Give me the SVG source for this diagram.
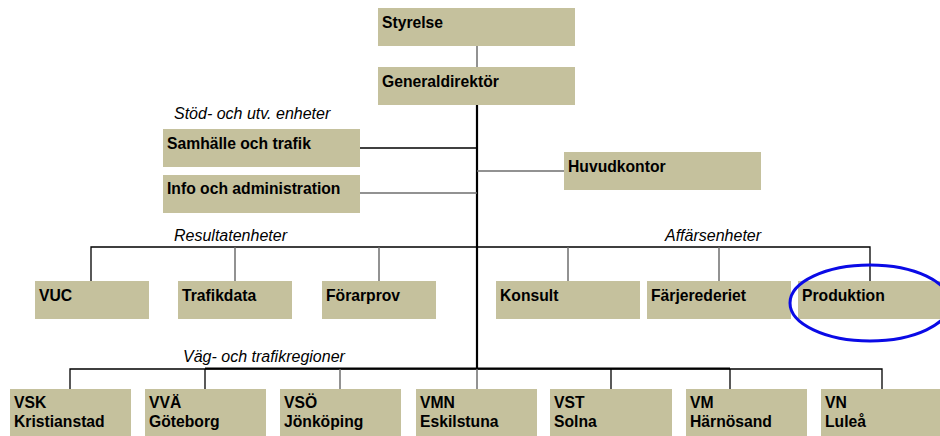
<svg xmlns="http://www.w3.org/2000/svg" width="940" height="436" viewBox="0 0 940 436">
<style>
.box{fill:#c5c19d}
.t{font-family:"Liberation Sans",Arial,sans-serif;font-weight:bold;font-size:15.7px;fill:#000}
.lbl{font-family:"Liberation Sans",Arial,sans-serif;font-style:italic;font-size:16px;fill:#000}
.k{stroke:#000;stroke-width:1.3;fill:none}
.g{stroke:#6e6e6e;stroke-width:1.5;fill:none}
.spine{stroke:#000;stroke-width:2.2;fill:none}
</style>
<rect width="940" height="436" fill="#fff"/>
<g id="connectors">
<line class="g" x1="477" y1="46" x2="477" y2="67"/>
<line class="spine" x1="477" y1="105" x2="477" y2="369"/>
<line class="k" x1="360" y1="148" x2="477" y2="148"/>
<line class="g" x1="360" y1="193" x2="477" y2="193"/>
<line class="g" x1="477" y1="171" x2="564" y2="171"/>
<polyline class="k" points="91,281 91,247 870,247 870,281"/>
<line class="g" x1="235" y1="247" x2="235" y2="281"/>
<line class="g" x1="379" y1="247" x2="379" y2="281"/>
<line class="g" x1="568" y1="247" x2="568" y2="281"/>
<line class="g" x1="719" y1="247" x2="719" y2="281"/>
<polyline class="k" points="70,389 70,369 882,369 882,389"/>
<line class="spine" x1="205" y1="368.5" x2="730" y2="368.5"/>
<line class="k" x1="205" y1="369" x2="205" y2="389"/>
<line class="g" x1="340" y1="369" x2="340" y2="389"/>
<line class="g" x1="477" y1="369" x2="477" y2="389"/>
<line class="k" x1="611" y1="369" x2="611" y2="389"/>
<line class="k" x1="730" y1="369" x2="730" y2="389"/>
</g>
<text class="lbl" x="174" y="119">Stöd- och utv. enheter</text>
<text class="lbl" x="174" y="241">Resultatenheter</text>
<text class="lbl" x="665" y="241">Affärsenheter</text>
<text class="lbl" x="183" y="362">Väg- och trafikregioner</text>
<g id="styrelse"><rect class="box" x="378" y="8" width="197" height="38"/><text class="t" x="382" y="28">Styrelse</text></g>
<g id="generaldirektor"><rect class="box" x="378" y="67" width="197" height="38"/><text class="t" x="382" y="87">Generaldirektör</text></g>
<g id="samhalle"><rect class="box" x="163" y="129" width="197" height="38"/><text class="t" x="167" y="149">Samhälle och trafik</text></g>
<g id="info"><rect class="box" x="163" y="175" width="197" height="38"/><text class="t" x="167" y="194">Info och administration</text></g>
<g id="huvudkontor"><rect class="box" x="564" y="152" width="197" height="38"/><text class="t" x="568" y="172">Huvudkontor</text></g>
<g id="vuc"><rect class="box" x="35" y="281" width="114" height="38"/><text class="t" x="39" y="301">VUC</text></g>
<g id="trafikdata"><rect class="box" x="178" y="281" width="114" height="38"/><text class="t" x="182" y="301">Trafikdata</text></g>
<g id="forarprov"><rect class="box" x="322" y="281" width="114" height="38"/><text class="t" x="326" y="301">Förarprov</text></g>
<g id="konsult"><rect class="box" x="496" y="281" width="144" height="38"/><text class="t" x="500" y="301">Konsult</text></g>
<g id="farjerederiet"><rect class="box" x="647" y="281" width="144" height="38"/><text class="t" x="651" y="301">Färjerederiet</text></g>
<g id="produktion"><rect class="box" x="798" y="281" width="144" height="38"/><text class="t" x="802" y="301">Produktion</text>
<ellipse cx="870" cy="303" rx="80" ry="38" fill="none" stroke="#0a0ae6" stroke-width="3"/></g>
<g id="vsk"><rect class="box" x="10" y="389" width="121" height="48"/><text class="t" x="14" y="408">VSK</text><text class="t" x="14" y="427">Kristianstad</text></g>
<g id="vva"><rect class="box" x="145" y="389" width="121" height="48"/><text class="t" x="149" y="408">VVÄ</text><text class="t" x="149" y="427">Göteborg</text></g>
<g id="vso"><rect class="box" x="280" y="389" width="121" height="48"/><text class="t" x="284" y="408">VSÖ</text><text class="t" x="284" y="427">Jönköping</text></g>
<g id="vmn"><rect class="box" x="416" y="389" width="121" height="48"/><text class="t" x="420" y="408">VMN</text><text class="t" x="420" y="427">Eskilstuna</text></g>
<g id="vst"><rect class="box" x="550" y="389" width="122" height="48"/><text class="t" x="554" y="408">VST</text><text class="t" x="554" y="427">Solna</text></g>
<g id="vm"><rect class="box" x="686" y="389" width="121" height="48"/><text class="t" x="690" y="408">VM</text><text class="t" x="690" y="427">Härnösand</text></g>
<g id="vn"><rect class="box" x="821" y="389" width="121" height="48"/><text class="t" x="825" y="408">VN</text><text class="t" x="825" y="427">Luleå</text></g>
</svg>
